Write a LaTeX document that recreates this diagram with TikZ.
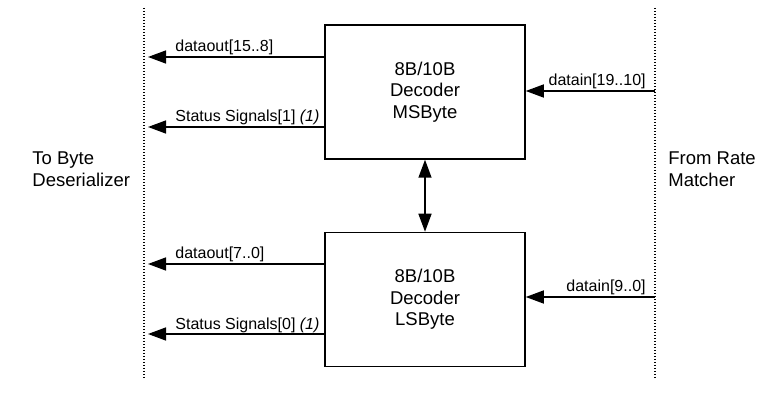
\documentclass[tikz,border=0pt]{standalone}
\usepackage{fontspec}
\setmainfont{Liberation Sans}
\usetikzlibrary{arrows.meta}

\begin{document}
\begin{tikzpicture}[x=0.5pt,y=-0.5pt,
  decbox/.style={draw,line width=0.75pt,minimum width=100pt,minimum height=67pt,
    align=center,font=\fontsize{9.25}{10.75}\selectfont},
  sig/.style={line width=0.75pt,-{Triangle[length=9pt,width=6.5pt]}},
  sigtxt/.style={inner sep=0pt,font=\fontsize{8}{9.6}\selectfont},
  sidetxt/.style={inner sep=0pt,align=left,font=\fontsize{9.25}{10.75}\selectfont},
  boundary/.style={line width=0.6pt,dash pattern=on 0.6pt off 0.9pt}]
\useasboundingbox (0,0) rectangle (771,395);

% boundaries
\draw[boundary] (144,8) -- (144,378);
\draw[boundary] (655,8) -- (655,378);
\node[sidetxt,anchor=west] (todes) at (32,169) {To Byte\\Deserializer};
\node[sidetxt,anchor=west] (fromrm) at (668,169) {From Rate\\Matcher};

% decoders
\node[decbox] (msb) at (425,92) {8B/10B\\ Decoder\\MSByte};
\node[decbox] (lsb) at (425,299.5) {8B/10B\\ Decoder\\LSByte};
\draw[line width=0.75pt,{Triangle[length=9pt,width=6.5pt]}-{Triangle[length=9pt,width=6.5pt]}]
  (msb) -- (lsb);

% outputs
\coordinate (out1) at (148,57);
\coordinate (st1) at (148,127);
\coordinate (out0) at (148,264);
\coordinate (st0) at (148,334);
\draw[sig] (msb.west |- out1) -- (out1);
\draw[sig] (msb.west |- st1) -- (st1);
\draw[sig] (lsb.west |- out0) -- (out0);
\draw[sig] (lsb.west |- st0) -- (st0);
\node[sigtxt,anchor=base west] (out1l) at (175,52) {dataout[15..8]};
\node[sigtxt,anchor=base west] (st1l) at (175,122) {Status Signals[1] \textit{(1)}};
\node[sigtxt,anchor=base west] (out0l) at (175,259) {dataout[7..0]};
\node[sigtxt,anchor=base west] (st0l) at (175,329) {Status Signals[0] \textit{(1)}};

% inputs
\coordinate (in1) at (655,91);
\coordinate (in0) at (655,297);
\draw[sig] (in1) -- (msb.east |- in1);
\draw[sig] (in0) -- (lsb.east |- in0);
\node[sigtxt,anchor=base east] (in1l) at (646,86) {datain[19..10]};
\node[sigtxt,anchor=base east] (in0l) at (646,292) {datain[9..0]};
\end{tikzpicture}
\end{document}
